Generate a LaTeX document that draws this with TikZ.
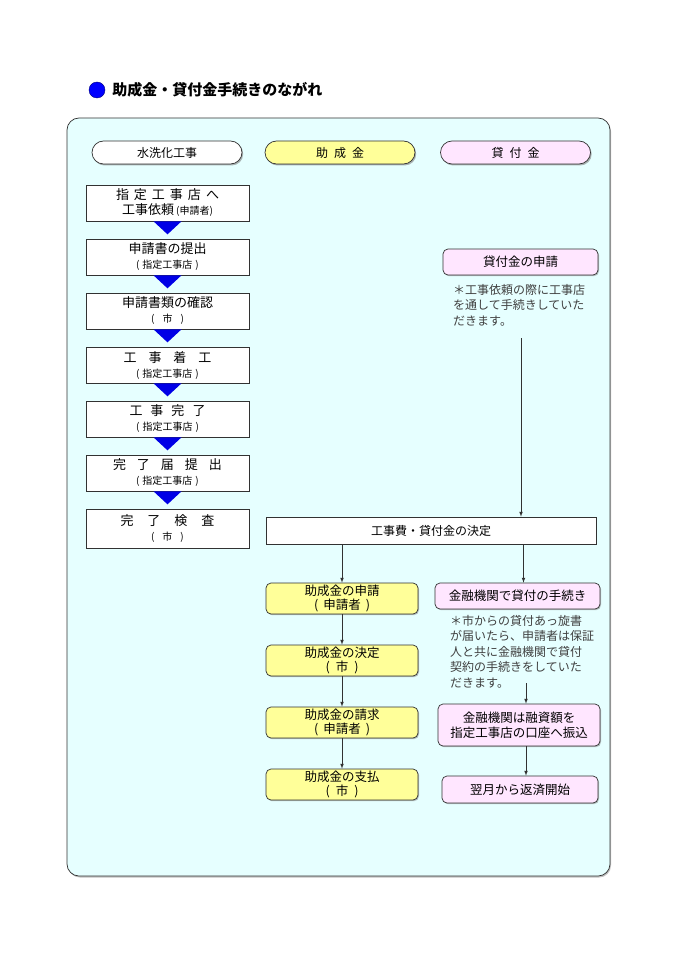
\documentclass[tikz,border=0pt]{standalone}
\usepackage{fontspec}
\setmainfont{Noto Sans CJK JP}
\usetikzlibrary{calc,positioning,shadows}
\definecolor{panel}{RGB}{230,255,255}
\definecolor{jyosei}{RGB}{255,255,153}
\definecolor{kashi}{RGB}{255,230,255}
\definecolor{edge}{RGB}{50,50,50}
\definecolor{triblue}{RGB}{0,0,230}
\newcommand{\sub}[1]{{\fontsize{10}{12}\selectfont #1}}
\newcommand{\gp}[1]{\hspace{#1pt}}

\begin{document}
\begin{tikzpicture}[x=1pt,y=1pt,
     work/.style = {draw=edge, line width=0.7pt, fill=white, rectangle, minimum width=163pt, minimum height=36pt,
      inner sep=0pt, align=center, font=\fontsize{13}{15}\selectfont, node distance=54pt},
     head/.style = {draw=edge, line width=0.7pt, rounded corners=11.5pt, minimum width=150pt, minimum height=23pt,
      inner sep=0pt, font=\fontsize{12}{14}\selectfont,
      drop shadow={shadow xshift=1.2pt, shadow yshift=-1.5pt, opacity=.6}},
     grant/.style = {draw=edge, line width=0.7pt, fill=jyosei, rounded corners=5pt, minimum width=152pt, minimum height=31pt,
      inner sep=0pt, align=center, font=\fontsize{12.5}{14}\selectfont, node distance=62pt,
      drop shadow={shadow xshift=1pt, shadow yshift=-1.2pt, opacity=.5}},
     loan/.style = {draw=edge, line width=0.7pt, fill=kashi, rounded corners=5pt, inner sep=0pt, align=center,
      font=\fontsize{12.5}{15}\selectfont,
      drop shadow={shadow xshift=1pt, shadow yshift=-1.2pt, opacity=.5}},
     note/.style = {anchor=north west, inner sep=0pt, align=left, text=black!75,
      font=\fontsize{12}{15.5}\selectfont},
     arrow/.style = {draw=edge, line width=0.7pt, -latex}
    ]
    \useasboundingbox (0,0) rectangle (690,-976);
    \draw[draw=edge, line width=0.7pt, fill=panel, rounded corners=12pt,
      drop shadow={shadow xshift=1pt, shadow yshift=-1.5pt, opacity=.5}] (67,-118) rectangle (610,-876);

    \node[circle, draw=blue!50!black, fill=blue, minimum size=16pt, inner sep=0pt] (dot) at (97,-90) {};
    \node[right=7pt of dot, inner sep=0pt, font=\bfseries\fontsize{15}{17}\selectfont] (title) {助成金・貸付金手続きのながれ};

    \node[head, fill=white] (hsui) at (167,-152.5) {水洗化工事};
    \node[head, fill=jyosei] (hjyo) at (340,-152.5) {助\gp{6}成\gp{6}金};
    \node[head, fill=kashi] (hkas) at (515.5,-152.5) {貸\gp{6}付\gp{6}金};

    \node[work] (irai) at (167.5,-203) {指\gp{5}定\gp{5}工\gp{5}事\gp{5}店\gp{5}へ\\工事依頼\sub{\gp{2}(申請者)}};
    \node[work, below of=irai] (teisyutsu) {申請書の提出\\\sub{(\gp{3}指定工事店\gp{3})}};
    \node[work, below of=teisyutsu] (kakunin) {申請書類の確認\\\sub{(\gp{8}市\gp{8})}};
    \node[work, below of=kakunin] (chakko) {工\gp{12}事\gp{12}着\gp{12}工\\\sub{(\gp{3}指定工事店\gp{3})}};
    \node[work, below of=chakko] (kanryo) {工\gp{8}事\gp{8}完\gp{8}了\\\sub{(\gp{3}指定工事店\gp{3})}};
    \node[work, below of=kanryo] (todoke) {完\gp{11}了\gp{11}届\gp{11}提\gp{11}出\\\sub{(\gp{3}指定工事店\gp{3})}};
    \node[work, below of=todoke, minimum height=39pt, yshift=-1.5pt] (kensa) {完\gp{14}了\gp{14}検\gp{14}査\\\sub{(\gp{8}市\gp{8})}};

    \foreach \a in {irai,teisyutsu,kakunin,chakko,kanryo,todoke}
      \fill[triblue] ($(\a.south)+(-14,0)$) -- ($(\a.south)+(14,0)$) -- ($(\a.south)+(0,-13)$) -- cycle;

    \node[loan, minimum width=155pt, minimum height=26pt] (kmoushi) at (520.5,-262) {貸付金の申請};
    \node[note] (note1) at (453,-284) {＊工事依頼の際に工事店\\を通して手続きしていた\\だきます。};
    \coordinate (n1) at (521,-338);

    \node[draw=edge, line width=0.7pt, fill=white, minimum width=330pt, minimum height=27pt, inner sep=0pt,
      font=\fontsize{12}{14}\selectfont] (kettei) at (431,-530.5) {工事費・貸付金の決定};
    \draw[arrow] (n1) -- (n1 |- kettei.north);

    \node[grant] (gshin) at (342,-598.5) {助成金の申請\\(\gp{5}申請者\gp{5})};
    \node[grant, below of=gshin] (gket) {助成金の決定\\(\gp{6}市\gp{6})};
    \node[grant, below of=gket] (gsei) {助成金の請求\\(\gp{5}申請者\gp{5})};
    \node[grant, below of=gsei] (gshi) {助成金の支払\\(\gp{6}市\gp{6})};
    \draw[arrow] (kettei.south -| gshin) -- (gshin);
    \foreach \a/\b in {gshin/gket,gket/gsei,gsei/gshi}
      \draw[arrow] (\a) -- (\b);

    \node[loan, minimum width=165pt, minimum height=26pt] (ktetsu) at (517.5,-596) {金融機関で貸付の手続き};
    \draw[arrow] ($(kettei.south -| ktetsu.north)+(6,0)$) -- ($(ktetsu.north)+(6,0)$);
    \node[note] (note2) at (450,-615) {＊市からの貸付あっ旋書\\が届いたら、申請者は保証\\人と共に金融機関で貸付\\契約の手続きをしていた\\だきます。};
    \coordinate (n2) at (526,-683);

    \node[loan, minimum width=162pt, minimum height=42pt] (kfuri) at (519,-725) {金融機関は融資額を\\指定工事店の口座へ振込};
    \node[loan, minimum width=156pt, minimum height=27pt] (khen) at (520,-789.5) {翌月から返済開始};
    \draw[arrow] (n2) -- (n2 |- kfuri.north);
    \coordinate (n3) at ($(kfuri.south)+(7,0)$);
    \draw[arrow] (n3) -- (n3 |- khen.north);
\end{tikzpicture}
\end{document}
